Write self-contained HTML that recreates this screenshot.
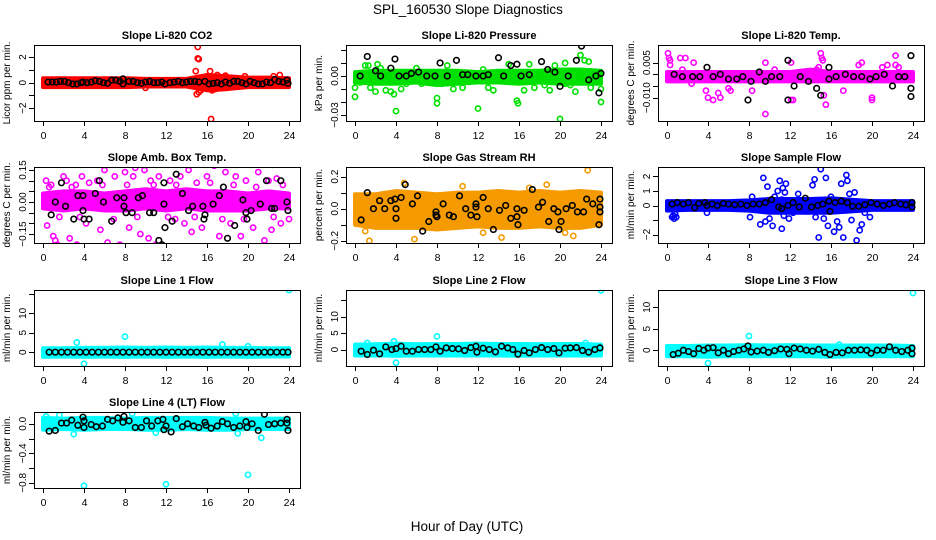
<!DOCTYPE html>
<html><head><meta charset="utf-8"><style>
html,body{margin:0;padding:0;background:#fff;}
svg{display:block;font-family:"Liberation Sans",sans-serif;}
</style></head><body>
<svg id="chart" width="936" height="540" viewBox="0 0 936 540">
<text x="468" y="14" text-anchor="middle" font-size="13.5">SPL_160530  Slope Diagnostics</text>
<text x="467" y="531" text-anchor="middle" font-size="13.5">Hour of Day (UTC)</text>
</svg>
<script>
// ---- data (hour, value) ----
const xTicks = [0,4,8,12,16,20,24];
const bandHours = [0,2,4,6,8,10,12,14,16,18,20,22,24];

const co2BandLo = [-0.35,-0.35,-0.35,-0.35,-0.35,-0.3,-0.3,-0.3,-0.6,-0.5,-0.35,-0.35,-0.35];
const co2BandHi = [0.35,0.35,0.35,0.35,0.35,0.3,0.3,0.3,0.6,0.5,0.4,0.4,0.35];
const co2Out = [[15.1,2.8],[15.1,1.9],[15.2,1.85],[14.9,0.9],[15,-0.9],[15.2,-0.75],[15.4,-0.6],[16.4,-2.85],[16.3,0.9],[16.5,-0.6],[17,0.6],[17.8,0.55],[19.7,0.5],[23.1,0.6],[22.5,0.5],[10,-0.4],[16.8,-0.5],[17.3,0.4]];
const co2Black = [[0.5,0.05],[0.9,0.05],[1.3,0.05],[1.7,0.1],[2.1,0.1],[2.5,0],[2.9,-0.1],[3.3,-0.1],[3.7,0],[3.9,0.05],[4.3,0],[4.7,0.05],[5.1,0.15],[5.5,0.1],[5.9,0],[6.3,-0.05],[6.7,0.2],[7.1,0.2],[7.5,0.1],[7.8,0.3],[7.8,-0.1],[8.4,0.1],[8.8,0.1],[9.2,0],[9.6,-0.05],[10,0.05],[10.4,0.1],[10.8,0],[11.2,0],[11.6,0.05],[11.9,-0.1],[12.4,0],[12.8,0.05],[13.2,0.1],[13.6,0],[14,0.05],[14.4,0.1],[14.8,0.1],[15.2,0.05],[15.8,0.1],[16.2,-0.1],[16.6,-0.05],[17,0],[17.4,-0.1],[17.8,0.05],[18.2,-0.05],[18.6,0.1],[19,0.1],[19.4,0],[19.8,-0.1],[20.2,0.1],[20.6,0],[21,-0.1],[21.4,-0.1],[21.8,0.05],[22.2,0],[22.6,0.25],[23,0.1],[23.4,0.05],[23.8,0.2],[23.9,-0.05]];

const presBandLo = [-0.005,-0.006,-0.006,-0.005,-0.007,-0.006,-0.005,-0.005,-0.006,-0.005,-0.006,-0.006,-0.006];
const presBandHi = [0.003,0.004,0.004,0.004,0.004,0.004,0.003,0.004,0.004,0.004,0.005,0.005,0.004];
const presOut = [[0,-0.016],[0,-0.009],[0.5,-0.005],[1,0.008],[1.3,0.008],[1.5,-0.009],[2,-0.012],[2.5,0.006],[3,-0.011],[3.5,-0.012],[3.8,-0.014],[4,-0.027],[4.5,-0.01],[5,-0.006],[6,0.006],[8,-0.017],[8,-0.021],[8.5,-0.006],[9,0.008],[9.6,-0.01],[10.5,-0.009],[12,-0.025],[12.5,0.005],[13,-0.009],[13.5,-0.011],[15,0.009],[15.8,-0.019],[15.9,-0.021],[16.5,-0.011],[17,0.009],[17.5,-0.009],[19,-0.011],[20,-0.033],[20.5,0.01],[21,-0.007],[21.5,-0.012],[22,0.016],[22.4,0.012],[22.8,0.011],[23,-0.009],[23.5,-0.004],[24,-0.02],[24,-0.01],[20.5,-0.006],[19.5,0.008],[18.5,-0.007],[2.2,0.009],[6.5,-0.006]];
const presBlack = [[0.5,0],[1.2,0.015],[2,0.004],[2.5,0],[3.5,0.006],[3.9,0.013],[4.3,0],[5,0],[5.5,0.002],[6.2,0.003],[7,0],[7.8,0],[8.3,0.01],[9,0],[9.9,0.012],[10.5,0.001],[11,0.001],[11.8,0],[12.5,0],[13,0.001],[14,0.014],[14.5,0],[15.2,0.008],[15.8,0.009],[16.2,0],[17,0.001],[18.2,0.011],[18.8,0.005],[19.5,0.003],[20,-0.008],[20.8,0],[21.6,0.012],[22.1,0.023],[22.8,-0.003],[23.5,0],[23.8,-0.013],[24,0.002]];

const tempBandLo = [-0.003,-0.003,-0.003,-0.003,-0.003,-0.003,-0.003,-0.003,-0.003,-0.003,-0.003,-0.003,-0.003];
const tempBandHi = [0.001,0.001,0.001,0.001,0.001,0.001,0.001,0.002,0.001,0.001,0.001,0.001,0.001];
const tempOut = [[0.1,0.009],[0.2,0.007],[0.3,0.006],[0.3,0.004],[1.3,0.007],[1.8,0.007],[2.6,0.005],[1.5,0.002],[3.8,-0.007],[4,-0.01],[4.5,-0.011],[5,-0.008],[5.2,-0.01],[6,-0.006],[6.2,-0.007],[8.3,-0.007],[9.6,-0.017],[9.6,0.005],[12.1,0.005],[12.1,-0.011],[12.3,-0.011],[14.8,0.003],[15,0.009],[15.1,0.007],[15.2,0.006],[15.5,-0.013],[17.2,-0.007],[18.7,0.004],[19,0.005],[20,-0.01],[20,-0.011],[21.5,0.004],[22.3,0.008],[22.3,0.004],[22.6,0.003],[14.6,0.002],[15.3,-0.009],[2.4,-0.004],[10.5,0.002],[21,0.003]];
const tempBlack = [[0.7,0],[1.5,-0.001],[2.5,-0.001],[3.2,-0.001],[3.9,0.003],[4.5,-0.001],[5.2,0],[6,-0.002],[6.8,-0.002],[7.4,-0.001],[7.9,-0.011],[8.2,-0.003],[9,0.001],[9.6,-0.003],[10.2,-0.001],[11,-0.001],[11.8,0.006],[11.8,-0.011],[12.4,-0.005],[13,-0.001],[13.8,-0.003],[14.6,-0.006],[15,-0.009],[15.8,0.003],[15.8,-0.002],[16.5,-0.001],[17.4,0],[18.2,-0.001],[19,-0.001],[19.8,-0.002],[20.4,-0.001],[21.2,0],[22,-0.005],[22.6,-0.001],[23.2,-0.001],[23.8,0.008],[23.8,-0.006],[23.8,-0.0095]];

const ambBandLo = [-0.03,-0.04,-0.03,-0.04,-0.04,-0.03,-0.04,-0.03,-0.04,-0.04,-0.04,-0.03,-0.03];
const ambBandHi = [0.04,0.05,0.05,0.04,0.05,0.06,0.05,0.06,0.05,0.05,0.04,0.05,0.04];
const ambOut = [[0.3,0.1],[0.4,-0.11],[0.8,0.08],[1,-0.16],[1.2,-0.18],[1.4,-0.2],[2,0.12],[2.3,0.1],[2.6,-0.17],[3.2,0.08],[3.3,-0.2],[3.8,0.12],[4.2,-0.1],[4.5,0.09],[4.7,-0.22],[5,-0.24],[5.3,0.1],[5.6,-0.13],[6,0.15],[6.3,-0.19],[6.7,-0.24],[7,0.12],[7.5,-0.2],[8,0.14],[8.4,-0.12],[8.8,0.12],[9,0.16],[9.5,-0.15],[9.9,0.15],[10.3,-0.17],[10.5,0.1],[11,-0.2],[11.3,0.12],[11.6,-0.24],[12.4,0.1],[12.9,-0.08],[13.4,0.12],[13.8,-0.1],[14.2,0.15],[14.5,-0.14],[15,0.09],[15.5,-0.12],[16,0.12],[16.7,0.17],[17.2,-0.16],[17.8,0.14],[18.3,-0.1],[18.8,0.12],[19.3,-0.16],[19.8,0.1],[20.5,-0.12],[21,0.14],[21.6,-0.18],[22,0.1],[22.3,-0.13],[22.8,0.11],[23.2,-0.1],[23.6,0.19],[24,-0.08],[0.6,0.07],[1.6,-0.07],[2.8,0.07],[3.6,-0.07],[5.8,0.08],[6.9,-0.08],[8.2,0.08],[9.2,-0.07],[10.8,0.08],[12.2,-0.07],[13,0.08],[14.8,-0.07],[16.3,0.09],[17.5,-0.08],[18.6,0.08],[19.6,-0.08],[20.8,0.07],[22.5,-0.07],[23.4,0.08]];
const ambBlack = [[0.8,-0.06],[1.2,0],[1.8,0.09],[2.2,-0.02],[3,-0.08],[3.4,0.03],[3.9,0.03],[3.9,-0.04],[4,-0.08],[4.5,-0.08],[5.1,0.04],[5.5,0.1],[5.9,0],[6.7,-0.09],[7.2,0.02],[7.9,0.02],[7.9,-0.02],[8.1,-0.05],[8.7,-0.05],[9.3,0.02],[9.7,0.03],[10.4,-0.05],[10.8,-0.05],[11.3,-0.18],[11.6,-0.2],[11.8,0.09],[11.8,-0.01],[11.9,-0.12],[12.6,-0.09],[13,0.13],[13.6,0.04],[14.2,-0.04],[14.6,-0.02],[15.2,0.19],[15.6,-0.02],[15.8,-0.06],[15.7,-0.08],[16.6,-0.01],[17.2,0.03],[17.6,0.07],[18,-0.17],[18.7,-0.11],[19.5,0.01],[19.8,-0.05],[19.9,-0.08],[20.3,-0.04],[21.2,-0.01],[21.8,0.1],[22.3,-0.03],[22.6,-0.03],[23.2,0.1],[23.8,0],[23.9,-0.04],[23.9,0.18]];

const rhBandLo = [-0.1,-0.12,-0.12,-0.12,-0.13,-0.12,-0.11,-0.12,-0.12,-0.11,-0.12,-0.12,-0.1];
const rhBandHi = [0.09,0.09,0.11,0.1,0.09,0.1,0.1,0.11,0.1,0.11,0.1,0.11,0.1];
const rhOut = [[1.4,-0.2],[5.8,-0.19],[14.3,-0.18],[22.7,0.24],[1,-0.14],[21.3,-0.17],[18.7,0.15],[10.5,0.14],[4.8,0.16],[12.5,-0.15],[20.5,-0.15],[17,0.13]];
const rhBlack = [[0.6,-0.07],[1.2,0.1],[1.8,0],[2.4,0.05],[2.9,0],[3.5,0.05],[3.9,0.06],[4,-0.06],[4,0],[4.5,0.07],[4.9,0.15],[5.6,0.03],[6.1,0.08],[6.6,-0.14],[7.2,-0.08],[7.9,-0.02],[7.9,-0.04],[8,-0.05],[8.6,0.03],[9.2,-0.04],[9.6,-0.05],[10.2,0.08],[10.8,0],[11.3,-0.04],[11.8,0.03],[11.9,-0.05],[11.8,0.01],[12.5,0.07],[13,0],[13.5,-0.13],[14.1,-0.01],[14.7,0.02],[15.2,-0.06],[15.8,0],[15.8,-0.05],[15.9,-0.1],[16.5,-0.01],[17.3,0.12],[17.9,0.01],[18.3,0.04],[18.9,-0.08],[19.4,0],[19.8,-0.02],[19.9,-0.13],[20.1,-0.08],[20.6,0],[21.2,0.02],[21.7,-0.02],[22.3,-0.02],[22.6,0.06],[23.2,0.03],[23.8,-0.1],[23.9,0.01],[23.9,0.06],[23.9,-0.02]];

const flowBandLo = [-0.35,-0.3,-0.3,-0.3,-0.35,-0.5,-0.5,-0.5,-0.5,-0.4,-0.3,-0.3,-0.3];
const flowBandHi = [0.3,0.3,0.3,0.3,0.35,0.45,0.45,0.45,0.5,0.4,0.3,0.3,0.3];
const flowOut = [[0.5,-0.8],[0.6,-0.7],[0.7,-0.9],[0.8,-0.6],[0.9,-0.8],[3.9,-0.5],[8.1,-0.8],[8.3,0.6],[9.4,1.9],[9.6,-1.1],[9.8,1.3],[10,-0.9],[10.3,-1.4],[10.5,0.6],[10.8,1],[11,1.7],[11.2,-1.6],[11.3,1.2],[11.4,-0.7],[11.5,0.9],[11.6,1.5],[11.2,0.4],[12.3,-0.5],[13,0.3],[14.2,1.4],[14.4,1.8],[14.5,-0.8],[14.8,-2.2],[15,2.5],[15.3,-0.9],[15.5,1.9],[15.7,-1.4],[16,0.6],[16.3,-1.8],[16.6,-1.1],[16.8,-1.5],[17,1.5],[17.2,-2.2],[17.5,2.1],[17.6,1.7],[17.8,0.8],[18,-1],[18.3,0.9],[18.5,-2.4],[18.8,-1.7],[19,-1.3],[19.3,-0.5],[19.8,-0.8],[13.6,-0.4],[12.8,0.8],[9.1,-1.3],[11.9,-0.9]];
const flowBlack = [[0.5,0.1],[1,0.2],[1.6,0.1],[2.1,0.2],[2.7,-0.15],[3.1,0.15],[3.7,0.2],[3.9,0],[4.4,0.1],[4.9,0],[5.5,0.15],[6,0.1],[6.6,0.05],[7.2,0.1],[7.8,0],[8.4,0.1],[9,0.1],[9.6,0.2],[10.2,0.4],[10.9,-0.1],[11.2,-0.2],[11.8,0],[12.3,0.2],[12.9,-0.1],[13.5,0.5],[14.1,-0.1],[14.7,0],[15.2,0.1],[15.8,0.3],[15.9,-0.4],[16.4,0.2],[17,0.3],[17.6,0.2],[18.1,-0.05],[18.7,-0.05],[19.3,0.05],[19.9,0.2],[20.5,0.1],[21.1,0],[21.7,0.1],[22.2,0.2],[22.8,0.1],[23.3,0.05],[23.9,0.2],[23.9,-0.1]];

const l1BandLo = [-1.2,-1.1,-1.2,-1.1,-1.2,-1.1,-1.2,-1.1,-1.2,-1.1,-1.2,-1.1,-1.1];
const l1BandHi = [1,1,1.1,1.1,1.2,1.1,1.2,1.1,1.2,1.1,1.1,1,1];
const l1Out = [[3.3,2.5],[4,-3],[8,4],[17.5,2],[24,16],[20,1.5]];
const l1Black = [[0.6,0],[1.2,0],[1.8,0],[2.4,0],[3,0],[3.6,0],[4.2,0],[4.8,0],[5.4,0],[6,0],[6.6,0],[7.2,0],[7.8,0],[8.4,0],[9,0],[9.6,0],[10.2,0],[10.8,0],[11.4,0],[12,0],[12.6,0],[13.2,0],[13.8,0],[14.4,0],[15,0],[15.6,0],[16.2,0],[16.8,0],[17.4,0],[18,0],[18.6,0],[19.2,0],[19.8,0],[20.4,0],[21,0],[21.6,0],[22.2,0],[22.8,0],[23.4,0],[23.9,0]];

const l2BandLo = [-1.8,-1.8,-1.9,-1.8,-1.8,-1.8,-1.8,-1.8,-1.9,-1.8,-1.8,-1.8,-1.8];
const l2BandHi = [1.5,1.6,1.8,1.6,1.7,1.7,1.8,1.7,1.7,1.6,1.7,1.7,1.5];
const l2Out = [[1.2,2],[3.8,2.5],[4,-4],[8,4],[24,18],[22.5,2]];
const l2Black = [[0.6,-0.5],[1.2,-1.5],[1.8,-0.2],[2.4,-1.3],[3,0.8],[3.6,0],[4,0.3],[4.5,1],[5,-0.5],[5.6,-0.5],[6.2,0],[6.8,0],[7.4,0],[7.9,0.8],[8.3,-0.5],[8.9,0.5],[9.5,0.3],[10.1,0.2],[10.7,-0.3],[11.3,0.6],[11.8,1],[11.9,-0.8],[12.5,0.4],[13.1,0],[13.7,-0.7],[14.3,1],[14.9,0.5],[15.4,0],[15.9,-1.4],[16.5,-0.3],[17,-1],[17.6,0],[18.2,0.6],[18.8,0],[19.4,0.3],[19.9,-1],[20.5,0.4],[21,0.5],[21.6,0.6],[22.2,-0.3],[22.8,-0.8],[23.4,0],[23.9,0.5]];

const l3BandLo = [-1.4,-1.4,-1.5,-1.4,-1.4,-1.4,-1.4,-1.4,-1.5,-1.4,-1.4,-1.4,-1.4];
const l3BandHi = [1,1,1.1,1.1,1.2,1.1,1.2,1.1,1.1,1.1,1.1,1.1,1];
const l3Out = [[4,-3],[8,3.3],[24,13.3],[16.8,1.3]];
const l3Black = [[0.6,-1],[1.1,-0.7],[1.6,0],[2.1,-0.3],[2.6,-0.8],[3.1,0.4],[3.6,0],[4,0.5],[4.5,0.6],[5,-0.6],[5.5,0],[6,-0.8],[6.5,-0.3],[7,0],[7.5,0.3],[7.9,1],[8.2,-0.4],[8.8,-0.2],[9.4,0],[9.9,-0.5],[10.5,-0.1],[11.1,0.3],[11.7,0.2],[11.9,-0.8],[12.4,0.5],[13,0.3],[13.6,0],[14.2,-0.2],[14.8,0.2],[15.4,-0.5],[15.9,-1],[16.5,-0.5],[17.1,-0.6],[17.7,0],[18.3,0],[18.9,0.1],[19.5,0],[19.9,-0.7],[20.5,0],[21.1,0],[21.7,0.8],[22.3,0],[22.9,-0.3],[23.5,0],[23.9,0.5],[23.9,-0.8]];

const l4BandLo = [-0.08,-0.07,-0.08,-0.07,-0.07,-0.08,-0.08,-0.07,-0.08,-0.08,-0.07,-0.07,-0.07];
const l4BandHi = [0.08,0.07,0.08,0.08,0.07,0.08,0.08,0.08,0.08,0.07,0.07,0.07,0.07];
const l4Out = [[4,-0.84],[12,-0.82],[20,-0.69],[21.3,-0.19],[3,-0.14],[19,-0.13],[0.3,0.1],[1.6,0.12],[8.7,0.14],[18.8,0.14],[11,-0.12]];
const l4Black = [[0.6,-0.1],[1.2,-0.09],[1.8,0.01],[2.3,0.01],[2.8,0.05],[3.4,-0.02],[3.9,0.09],[4,-0.05],[4,0.04],[4.7,-0.01],[5.2,-0.04],[5.8,-0.03],[6.3,0.06],[6.8,0.04],[7.3,0.08],[7.8,0.02],[7.9,0.1],[8.4,0.04],[9,-0.05],[9.6,-0.05],[10.1,0.04],[10.6,-0.03],[11.2,0.04],[11.7,0.06],[11.8,-0.08],[12,-0.03],[12.5,-0.11],[13,0.07],[13.6,-0.04],[14.1,0],[14.7,-0.03],[15.2,-0.05],[15.8,0.02],[15.9,-0.02],[16.4,-0.06],[17,-0.03],[17.5,0.03],[18,0],[18.6,-0.05],[19.2,-0.03],[19.8,0.03],[19.9,-0.05],[20.4,0],[21,-0.09],[21.6,0.13],[22,-0.01],[22.6,0],[23.2,0.01],[23.8,0.06],[23.9,-0.09],[23.8,0.01]];

// ---- panel definitions ----
const panels = [
 {name:'co2',title:'Slope Li-820 CO2',ylab:'Licor ppm per min.',col:0,row:0,ylim:[-3.0,2.95],ticks:[-2,-1,0,1,2],labels:[-2,0,2],color:'#ff0000',lo:co2BandLo,hi:co2BandHi,out:co2Out,blk:co2Black,fmt:v=>String(v).replace('-','\u2212')},
 {name:'pressure',title:'Slope Li-820 Pressure',ylab:'kPa per min.',col:1,row:0,ylim:[-0.0346,0.0238],ticks:[-0.03,-0.02,-0.01,0,0.01,0.02],labels:[-0.03,0],color:'#00e000',lo:presBandLo,hi:presBandHi,out:presOut,blk:presBlack,fmt:v=>v.toFixed(2).replace('-','\u2212')},
 {name:'temp',title:'Slope Li-820 Temp.',ylab:'degrees C per min.',col:2,row:0,ylim:[-0.020,0.01256],ticks:[-0.01,-0.005,0,0.005],labels:[-0.01,0.005],color:'#ff00ff',lo:tempBandLo,hi:tempBandHi,out:tempOut,blk:tempBlack,fmt:v=>v.toFixed(3).replace('-','\u2212')},
 {name:'amb-box-temp',title:'Slope Amb. Box Temp.',ylab:'degrees C per min.',col:0,row:1,ylim:[-0.192,0.164],ticks:[-0.15,-0.1,-0.05,0,0.05,0.1,0.15],labels:[-0.15,0,0.15],color:'#ff00ff',lo:ambBandLo,hi:ambBandHi,out:ambOut,blk:ambBlack,fmt:v=>v.toFixed(2).replace('-','\u2212')},
 {name:'gas-stream-rh',title:'Slope Gas Stream RH',ylab:'percent per min.',col:1,row:1,ylim:[-0.214,0.26],ticks:[-0.2,-0.1,0,0.1,0.2],labels:[-0.2,0,0.2],color:'#f59a00',lo:rhBandLo,hi:rhBandHi,out:rhOut,blk:rhBlack,fmt:v=>v.toFixed(1).replace('-','\u2212')},
 {name:'sample-flow',title:'Slope Sample Flow',ylab:'ml/min per min.',col:2,row:1,ylim:[-2.58,2.65],ticks:[-2,-1,0,1,2],labels:[-2,0,1,2],color:'#0000ff',lo:flowBandLo,hi:flowBandHi,out:flowOut,blk:flowBlack,fmt:v=>String(v).replace('-','\u2212')},
 {name:'line1-flow',title:'Slope Line 1 Flow',ylab:'ml/min per min.',col:0,row:2,ylim:[-3.56,16],ticks:[0,5,10,15],labels:[0,5,10],color:'#00ffff',lo:l1BandLo,hi:l1BandHi,out:l1Out,blk:l1Black,fmt:v=>String(v)},
 {name:'line2-flow',title:'Slope Line 2 Flow',ylab:'ml/min per min.',col:1,row:2,ylim:[-5.0,18.1],ticks:[0,5,10,15],labels:[0,5,10],color:'#00ffff',lo:l2BandLo,hi:l2BandHi,out:l2Out,blk:l2Black,fmt:v=>String(v)},
 {name:'line3-flow',title:'Slope Line 3 Flow',ylab:'ml/min per min.',col:2,row:2,ylim:[-3.66,14.0],ticks:[0,5,10],labels:[0,5,10],color:'#00ffff',lo:l3BandLo,hi:l3BandHi,out:l3Out,blk:l3Black,fmt:v=>String(v)},
 {name:'line4-flow',title:'Slope Line 4 (LT) Flow',ylab:'ml/min per min.',col:0,row:3,ylim:[-0.87,0.16],ticks:[-0.8,-0.6,-0.4,-0.2,0],labels:[-0.8,-0.4,0],color:'#00ffff',lo:l4BandLo,hi:l4BandHi,out:l4Out,blk:l4Black,fmt:v=>v.toFixed(1).replace('-','\u2212')}
];

const NS='http://www.w3.org/2000/svg';
const svg=document.getElementById('chart');
const colX=[34,346,658], rowY=[45,167,290,412], BW=266, BH=76;
function mk(tag,attrs,parent){const e=document.createElementNS(NS,tag);for(const k in attrs)e.setAttribute(k,attrs[k]);parent.appendChild(e);return e;}

panels.forEach(p=>{
  const bx=colX[p.col], by=rowY[p.row];
  const xS=h=>bx+9+h*(246/24);
  const yS=v=>by+BH-(v-p.ylim[0])/(p.ylim[1]-p.ylim[0])*BH;
  const g=mk('g',{},svg);
  
  
  const clipId='clip-'+p.name;
  const cp=mk('clipPath',{id:clipId},g); mk('rect',{x:bx,y:by,width:BW,height:BH},cp);
  const plot=mk('g',{'clip-path':'url(#'+clipId+')'},g);
  
  
  let pts=bandHours.map((h,i)=>xS(h)+','+yS(p.hi[i]));
  pts=pts.concat(bandHours.map((h,i)=>xS(h)+','+yS(p.lo[i])).reverse());
  const band=mk('polygon',{points:pts.join(' '),fill:p.color,stroke:p.color,'stroke-width':4,'stroke-linejoin':'round'},plot);
  
  
  p.out.forEach(d=>{
    const c=mk('circle',{cx:xS(d[0]),cy:yS(d[1]),r:2.6,fill:'none',stroke:p.color,'stroke-width':1.6},plot);
    
    
  });
  p.blk.forEach(d=>{
    const c=mk('circle',{cx:xS(d[0]),cy:yS(d[1]),r:2.8,fill:'none',stroke:'#000','stroke-width':1.6},plot);
    
    
  });
  const box=mk('rect',{x:bx+0.5,y:by+0.5,width:BW,height:BH,fill:'none',stroke:'#000','stroke-width':1},g);
  
  
  xTicks.forEach(t=>{
    const x=Math.round(xS(t))+0.5;
    mk('line',{x1:x,x2:x,y1:by+BH,y2:by+BH+5,stroke:'#000'},g);
    const tx=mk('text',{x:x,y:by+BH+18,'text-anchor':'middle','font-size':10.5},g);
    tx.textContent=t;
    
    
  });
  p.ticks.forEach(t=>{
    const y=Math.round(yS(t))+0.5;
    mk('line',{x1:bx-5,x2:bx,y1:y,y2:y,stroke:'#000'},g);
  });
  p.labels.forEach(t=>{
    const y=yS(t);
    const tx=mk('text',{x:bx-8,y:y,'text-anchor':'middle','font-size':10,transform:'rotate(-90 '+(bx-8)+' '+y+')'},g);
    tx.textContent=p.fmt(t);
    
    
  });
  const yl=mk('text',{x:bx-24,y:by+BH/2,'text-anchor':'middle','font-size':10,transform:'rotate(-90 '+(bx-24)+' '+(by+BH/2)+')'},g);
  yl.textContent=p.ylab;
  
  
  const tt=mk('text',{x:bx+BW/2,y:by-6,'text-anchor':'middle','font-size':11,'font-weight':'bold'},g);
  tt.textContent=p.title;
  
  
});
</script>
</body></html>
